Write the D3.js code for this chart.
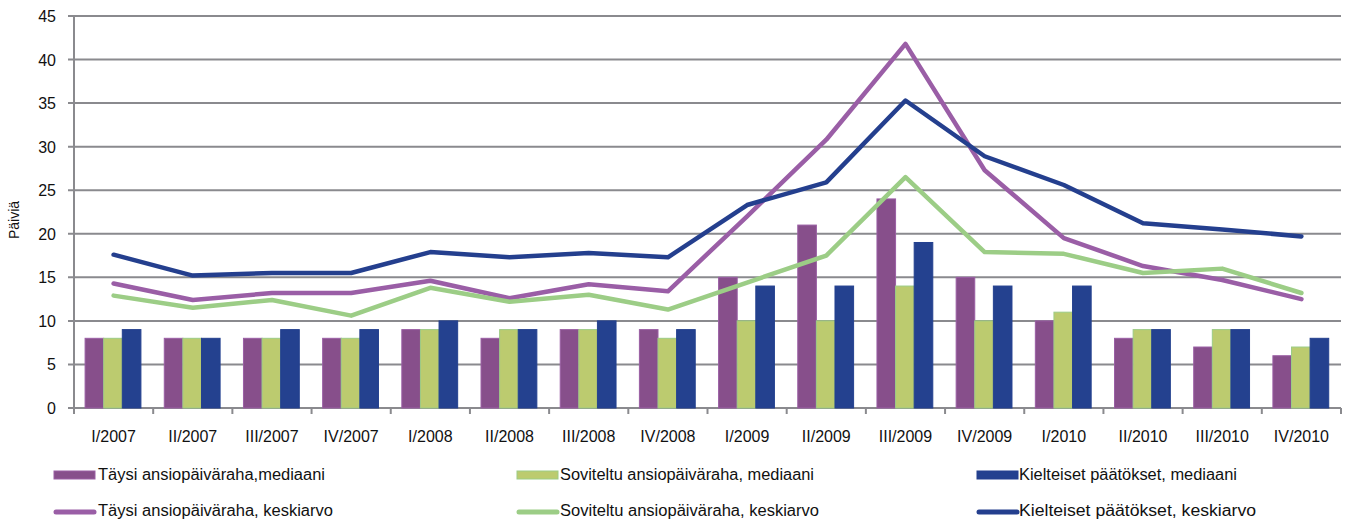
<!DOCTYPE html>
<html><head><meta charset="utf-8">
<script src="https://cdn.jsdelivr.net/npm/d3@7"></script>
<style>body{margin:0;background:#fff;}svg{display:block;}</style>
</head><body><svg id="c" width="1347" height="520"></svg>
<script>
const categories = ["I/2007","II/2007","III/2007","IV/2007","I/2008","II/2008","III/2008","IV/2008","I/2009","II/2009","III/2009","IV/2009","I/2010","II/2010","III/2010","IV/2010"];
const taysiMedian = [8,8,8,8,9,8,9,9,15,21,24,15,10,8,7,6];
const soviteltuMedian = [8,8,8,8,9,9,9,8,10,10,14,10,11,9,9,7];
const kielteisetMedian = [9,8,9,9,10,9,10,9,14,14,19,14,14,9,9,8];
const taysiMean = [14.3,12.4,13.2,13.2,14.6,12.6,14.2,13.4,22.0,30.8,41.8,27.3,19.5,16.3,14.7,12.5];
const soviteltuMean = [12.9,11.5,12.4,10.6,13.8,12.2,13.0,11.3,14.4,17.5,26.5,17.9,17.7,15.5,16.0,13.2];
const kielteisetMean = [17.6,15.2,15.5,15.5,17.9,17.3,17.8,17.3,23.3,25.9,35.3,28.9,25.6,21.2,20.5,19.7];
const yTicks = [0,5,10,15,20,25,30,35,40,45];
const barNames = ["Täysi ansiopäiväraha,mediaani","Soviteltu ansiopäiväraha, mediaani","Kielteiset päätökset, mediaani"];
const lineNames = ["Täysi ansiopäiväraha, keskiarvo","Soviteltu ansiopäiväraha, keskiarvo","Kielteiset päätökset, keskiarvo"];
const yLabel = "Päiviä";

const barFill = ["#874f8b","#bccb6f","#24418f"];
const barStroke = ["#9a5ea4","#9ccc85","#24418f"];
const lineColor = ["#9a5ea6","#9ccd86","#243f8e"];

const svg = d3.select("#c");
const L = 74, R = 1341, T = 16, B = 408;
const x = d3.scaleBand().domain(categories).range([L, R]).padding(0);
const y = d3.scaleLinear().domain([0,45]).range([B, T]);
const bw = x.bandwidth();
const x1 = d3.scaleBand().domain([0,1,2]).range([bw*0.14, bw*0.845]).padding(0);

// gridlines
svg.append("g").selectAll("line").data(yTicks).join("line")
  .attr("x1", L-6).attr("x2", R).attr("y1", d=>y(d)).attr("y2", d=>y(d))
  .attr("stroke", "#8a8a8e").attr("stroke-width", 2);
// y axis line
svg.append("line").attr("x1", L).attr("x2", L).attr("y1", T).attr("y2", B+4)
  .attr("stroke", "#8a8a8e").attr("stroke-width", 2);
// x ticks at boundaries
const bounds = categories.map(c => x(c)).concat([R]);
svg.append("g").selectAll("line").data(bounds).join("line")
  .attr("x1", d=>d).attr("x2", d=>d).attr("y1", B).attr("y2", B+6)
  .attr("stroke", "#8a8a8e").attr("stroke-width", 2);
// y tick labels
svg.append("g").selectAll("text").data(yTicks).join("text")
  .attr("x", 56).attr("y", d=>y(d)+6).attr("text-anchor","end")
  .attr("font-family","Liberation Sans, Arial, sans-serif").attr("font-size",16).attr("fill","#111")
  .text(d=>d);
// x labels
svg.append("g").selectAll("text").data(categories).join("text")
  .attr("x", d=>x(d)+bw/2).attr("y", 442).attr("text-anchor","middle")
  .attr("font-family","Liberation Sans, Arial, sans-serif").attr("font-size",16).attr("fill","#111")
  .text(d=>d);
// y label
svg.append("text").attr("transform","translate(19,220) rotate(-90)").attr("text-anchor","middle")
  .attr("font-family","Liberation Sans, Arial, sans-serif").attr("font-size",14).attr("fill","#111")
  .text(yLabel);

// bars
const barSeries = [taysiMedian, soviteltuMedian, kielteisetMedian];
barSeries.forEach((vals, si) => {
  svg.append("g").selectAll("rect").data(vals).join("rect")
    .attr("x", (d,i)=>x(categories[i]) + x1(si))
    .attr("width", x1.bandwidth())
    .attr("y", d=>y(d))
    .attr("height", d=>y(0)-y(d))
    .attr("fill", barFill[si])
    .attr("stroke", barStroke[si]).attr("stroke-width", 1);
});

// lines
const lineSeries = [taysiMean, soviteltuMean, kielteisetMean];
const line = d3.line().x((d,i)=>x(categories[i])+bw/2).y(d=>y(d));
lineSeries.forEach((vals, si) => {
  svg.append("path").datum(vals).attr("d", line)
    .attr("fill","none").attr("stroke", lineColor[si]).attr("stroke-width", 4.5)
    .attr("stroke-linejoin","round").attr("stroke-linecap","round");
});

// legend
const legX = [54, 517, 977];
const txtX = [98, 560, 1019];
const txtLen1 = [227, 254, 218];
const txtLen2 = [235, 259, 237];
barNames.forEach((n, i) => {
  svg.append("rect").attr("x", legX[i]).attr("y", 471).attr("width", 41).attr("height", 8)
    .attr("fill", barFill[i]).attr("stroke", barStroke[i]).attr("stroke-width", 1);
  svg.append("text").attr("x", txtX[i]).attr("y", 480)
    .attr("font-family","Liberation Sans, Arial, sans-serif").attr("font-size",16).attr("fill","#111")
    .attr("textLength", txtLen1[i]).attr("lengthAdjust","spacingAndGlyphs")
    .text(n);
});
lineNames.forEach((n, i) => {
  svg.append("line").attr("x1", legX[i]+2).attr("x2", legX[i]+40).attr("y1", 512).attr("y2", 512)
    .attr("stroke", lineColor[i]).attr("stroke-width", 5).attr("stroke-linecap","round");
  svg.append("text").attr("x", txtX[i]).attr("y", 516)
    .attr("font-family","Liberation Sans, Arial, sans-serif").attr("font-size",16).attr("fill","#111")
    .attr("textLength", txtLen2[i]).attr("lengthAdjust","spacingAndGlyphs")
    .text(n);
});
</script></body></html>
